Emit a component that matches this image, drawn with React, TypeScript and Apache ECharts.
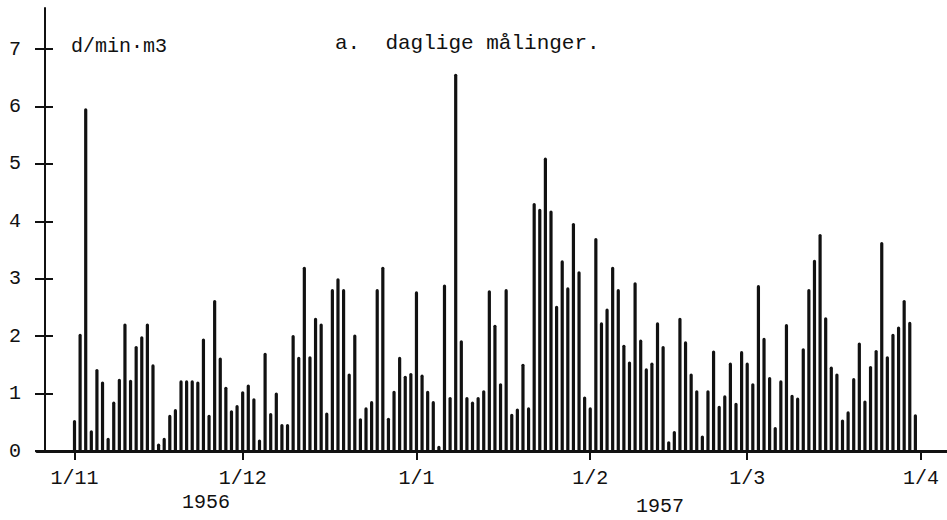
import React, { useEffect, useRef } from "react";
import * as echarts from "echarts";

// Daily measurements, d/min·m3, 1 Nov 1956 – 31 Mar 1957
const NOV_1956 = [0.54, 2.04, 5.97, 0.36, 1.43, 1.21, 0.23, 0.86, 1.26, 2.22, 1.24, 1.83, 2.0, 2.22, 1.51, 0.13, 0.23, 0.63, 0.73, 1.23, 1.23, 1.23, 1.21, 1.96, 0.63, 2.63, 1.63, 1.12, 0.71, 0.8];
const DEC_1956 = [1.04, 1.16, 0.92, 0.2, 1.71, 0.66, 1.02, 0.47, 0.47, 2.02, 1.64, 3.21, 1.65, 2.32, 2.22, 0.67, 2.82, 3.01, 2.82, 1.35, 2.03, 0.57, 0.76, 0.87, 2.82, 3.21, 0.58, 1.05, 1.64, 1.31, 1.36];
const JAN_1957 = [2.78, 1.33, 1.05, 0.87, 0.09, 2.9, 0.94, 6.57, 1.93, 0.94, 0.86, 0.94, 1.06, 2.8, 2.2, 1.18, 2.82, 0.65, 0.74, 1.52, 0.76, 4.32, 4.22, 5.11, 4.19, 2.53, 3.32, 2.85, 3.97, 3.13, 0.95];
const FEB_1957 = [0.76, 3.71, 2.24, 2.48, 3.21, 2.82, 1.85, 1.56, 2.94, 1.94, 1.44, 1.54, 2.24, 1.83, 0.17, 0.35, 2.32, 1.91, 1.35, 1.06, 0.27, 1.06, 1.75, 0.79, 0.97, 1.54, 0.84, 1.74];
const MAR_1957 = [1.54, 1.18, 2.89, 1.97, 1.29, 0.42, 1.23, 2.21, 0.98, 0.93, 1.79, 2.82, 3.33, 3.78, 2.33, 1.47, 1.35, 0.55, 0.69, 1.27, 1.89, 0.88, 1.48, 1.76, 3.64, 1.65, 2.04, 2.17, 2.63, 2.25, 0.64];

// Day index (0 = 1 Nov 1956) of each month start, and its tick label
const MONTH_TICKS = [0, 30, 61, 92, 120, 151];
const MONTH_LABELS = ["1/11", "1/12", "1/1", "1/2", "1/3", "1/4"];
const Y_TICKS = [0, 1, 2, 3, 4, 5, 6, 7];
const YEAR_LABELS = ["1956", "1957"];
const TITLE = "a.  daglige målinger.";
const UNIT = "d/min·m3";

const FONT = "'Liberation Mono', 'DejaVu Sans Mono', monospace";
const INK = "#111";

export default function App() {
  const ref = useRef<HTMLDivElement>(null);

  useEffect(() => {
    if (!ref.current) return;
    const chart = echarts.init(ref.current, undefined, { renderer: "svg" });
    const values = [...NOV_1956, ...DEC_1956, ...JAN_1957, ...FEB_1957, ...MAR_1957];
    const data = values.map((v, i) => [i, v]);

    const yAxisCommon = {
      type: "value",
      position: "left",
      offset: -8,
      min: 0,
      max: 7.714,
      splitLine: { show: false },
    };

    chart.setOption({
      animation: false,
      backgroundColor: "#fff",
      title: [
        {
          text: TITLE,
          left: 330,
          top: 28,
          textStyle: { fontFamily: FONT, fontSize: 21, fontWeight: "normal", color: INK },
        },
        {
          text: UNIT,
          left: 66,
          top: 31,
          textStyle: { fontFamily: FONT, fontSize: 20, fontWeight: "normal", color: INK },
        },
      ],
      grid: { left: 37, right: 0, top: 8, bottom: 69, containLabel: false, outerBoundsMode: "none" },
      xAxis: {
        type: "value",
        min: -6.69,
        max: 155.64,
        splitLine: { show: false },
        axisLine: { show: true, onZero: false, lineStyle: { color: INK, width: 3 } },
        axisTick: {
          show: true,
          customValues: MONTH_TICKS,
          length: 9,
          lineStyle: { color: INK, width: 2 },
        },
        axisLabel: {
          customValues: MONTH_TICKS,
          formatter: (v: number) => {
            const k = MONTH_TICKS.indexOf(Math.round(v));
            return k >= 0 ? MONTH_LABELS[k] : "";
          },
          margin: 17,
          fontFamily: FONT,
          fontSize: 20,
          color: INK,
        },
      },
      yAxis: [
        {
          ...yAxisCommon,
          axisLine: { show: true, onZero: false, lineStyle: { color: INK, width: 2 } },
          axisTick: { show: true, customValues: Y_TICKS, length: 10, lineStyle: { color: INK, width: 2 } },
          axisLabel: {
            customValues: Y_TICKS,
            margin: 24,
            fontFamily: FONT,
            fontSize: 20,
            color: INK,
          },
        },
        {
          ...yAxisCommon,
          axisLine: { show: false, onZero: false },
          axisTick: {
            show: true,
            inside: true,
            customValues: Y_TICKS,
            length: 8,
            lineStyle: { color: INK, width: 2 },
          },
          axisLabel: { show: false },
        },
      ],
      graphic: [
        {
          type: "text",
          x: 206,
          y: 502,
          style: {
            text: YEAR_LABELS[0],
            font: `20px ${FONT}`,
            fill: INK,
            align: "center",
            verticalAlign: "middle",
          },
        },
        {
          type: "text",
          x: 660,
          y: 506,
          style: {
            text: YEAR_LABELS[1],
            font: `20px ${FONT}`,
            fill: INK,
            align: "center",
            verticalAlign: "middle",
          },
        },
      ],
      series: [
        {
          type: "bar",
          xAxisIndex: 0,
          yAxisIndex: 0,
          data,
          barWidth: 3.2,
          itemStyle: { color: INK, borderRadius: [1.6, 1.6, 0, 0] },
          emphasis: { disabled: true },
        },
      ],
    });

    return () => chart.dispose();
  }, []);

  return (
    <div
      ref={ref}
      style={{ position: "fixed", left: 0, top: 0, width: 947, height: 520, background: "#fff" }}
    />
  );
}
